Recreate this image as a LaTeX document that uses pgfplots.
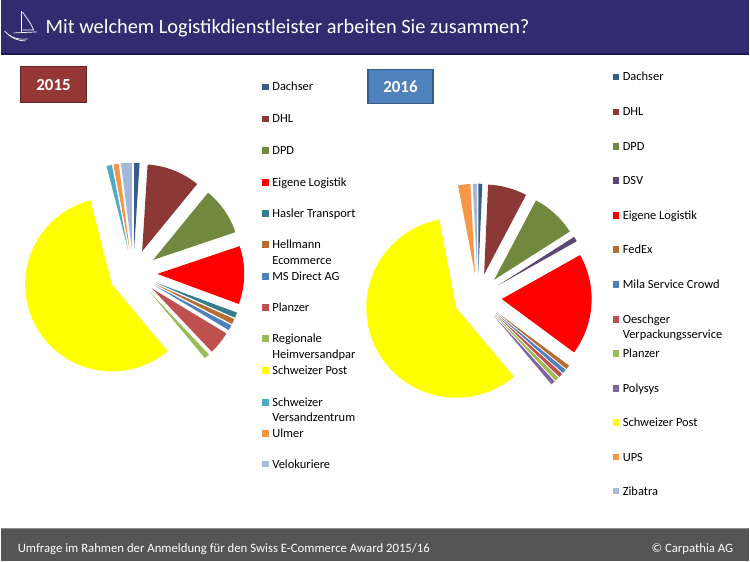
\documentclass[border=0pt]{standalone}
\usepackage{pgfplots}
\usepackage{pgfplotstable}
\pgfplotsset{compat=1.18}
\usepackage{fontspec}
\setmainfont{Carlito}

\definecolor{hdr}{HTML}{312C6F}
\definecolor{hdrline}{HTML}{1A1850}
\definecolor{ftr}{HTML}{555555}
\definecolor{ftrline}{HTML}{8C8C8C}
\definecolor{box15}{HTML}{953735}
\definecolor{box15d}{HTML}{632523}
\definecolor{box16}{HTML}{4F81BD}
\definecolor{box16d}{HTML}{385D8A}
% Excel palette
\definecolor{cA}{HTML}{385D8A}
\definecolor{cB}{HTML}{8C3836}
\definecolor{cC}{HTML}{71893F}
\definecolor{cD}{HTML}{5C4776}
\definecolor{cE}{HTML}{357D91}
\definecolor{cF}{HTML}{B66D31}
\definecolor{cG}{HTML}{4F81BD}
\definecolor{cH}{HTML}{C0504D}
\definecolor{cI}{HTML}{9BBB59}
\definecolor{cJ}{HTML}{8064A2}
\definecolor{cK}{HTML}{4BACC6}
\definecolor{cL}{HTML}{F79646}
\definecolor{cM}{HTML}{A5B8D9}
\definecolor{cRed}{HTML}{FF0000}
\definecolor{cYel}{HTML}{FFFF00}

% 2015, share in percent, clockwise from 12 o'clock
\pgfplotstableread{
val  col
1.0  cA
9.9  cB
8.9  cC
10.8 cRed
1.0  cE
1.0  cF
1.0  cG
4.3  cH
1.0  cI
57.0 cYel
1.0  cK
1.0  cL
2.0  cM
}\pieA

% 2016
\pgfplotstableread{
val  col
0.7  cA
7.0  cB
8.2  cC
0.9  cD
18.2 cRed
0.75 cF
0.75 cG
0.75 cH
0.75 cI
0.75 cJ
57.9 cYel
2.2  cL
0.8  cM
}\pieB

\newcommand\drawpie[5]{% table, cx, cy, radius, explode
  \pgfplotstablegetrowsof{#1}%
  \pgfmathtruncatemacro\pielast{\pgfplotsretval-1}%
  \gdef\pietot{0}%
  \foreach \i in {0,...,\pielast}{%
    \pgfplotstablegetelem{\i}{val}\of{#1}%
    \pgfmathsetmacro\pietmp{\pietot+\pgfplotsretval}%
    \xdef\pietot{\pietmp}}%
  \gdef\piecum{0}%
  \foreach \i in {0,...,\pielast}{%
    \pgfplotstablegetelem{\i}{val}\of{#1}\let\pieval\pgfplotsretval
    \pgfplotstablegetelem{\i}{col}\of{#1}\let\piecol\pgfplotsretval
    \pgfmathsetmacro\aS{90-\piecum/\pietot*360}%
    \pgfmathsetmacro\aE{90-(\piecum+\pieval)/\pietot*360}%
    \pgfmathsetmacro\aM{(\aS+\aE)/2}%
    \fill[fill=\piecol] (axis cs:#2,#3) ++(\aM:#5) -- ++(\aS:#4)
      arc[start angle=\aS, end angle=\aE, radius=#4] -- cycle;
    \pgfmathsetmacro\pietmp{\piecum+\pieval}%
    \xdef\piecum{\pietmp}}%
}

% legend entry: x, y (pixels from top), colour, text
\newcommand\legfont{\fontsize{12.5}{14}\selectfont}
\newcommand\legitem[4]{%
  \fill[#3] (#1,-#2-3.2) rectangle ++(6.5,6.5);
  \node[anchor=base west, inner sep=0pt, font=\legfont]
    at (#1+10,-#2-4) {#4};}
\newcommand\legline[3]{%
  \node[anchor=base west, inner sep=0pt, font=\legfont]
    at (#1+10,-#2-4) {#3};}

\begin{document}
\begin{tikzpicture}[x=1bp, y=1bp]
\fill[white] (0,0) rectangle (750,-562);

% header
\fill[hdr] (0,0) rectangle (750,-54);
\draw[hdrline, line width=1.2] (0,-54) -- (750,-54);
\begin{scope}[white, line width=0.7]
\draw (21,-11) -- (21,-33);
\draw (22,-12) .. controls (26,-18) and (31,-24) .. (33,-30) -- (22,-30);
\draw (13,-33) -- (36,-32);
\draw (4,-31) .. controls (10,-38) and (18,-40) .. (27,-39);
\draw (8,-35) .. controls (13,-39) and (19,-41) .. (25,-41);
\end{scope}
\node[anchor=base west, inner sep=0pt, text=white, font=\fontsize{20.5}{22}\selectfont]
  at (45,-34) {Mit welchem Logistikdienstleister arbeiten Sie zusammen?};

% footer
\fill[ftr] (0,-529) rectangle (750,-562);
\draw[ftrline, line width=1] (0,-529.5) -- (750,-529.5);
\node[anchor=base west, inner sep=0pt, text=white, font=\fontsize{12.8}{14}\selectfont]
  at (17,-553) {Umfrage im Rahmen der Anmeldung für den Swiss E-Commerce Award 2015/16};
\node[anchor=base east, inner sep=0pt, text=white, font=\fontsize{12.8}{14}\selectfont]
  at (734,-553) {© Carpathia AG};

% year boxes
\draw[fill=box15, draw=box15d, line width=1.2] (20,-67) rectangle (86,-103);
\node[text=white, font=\fontsize{17}{19}\selectfont\bfseries] at (53,-85) {2015};
\draw[fill=box16, draw=box16d, line width=1.2] (368,-70) rectangle (433,-104);
\node[text=white, font=\fontsize{17}{19}\selectfont\bfseries] at (400.5,-87) {2016};

% pies
\begin{axis}[at={(0,-562)}, anchor=south west, x=1bp, y=1bp,
  xmin=0, xmax=750, ymin=-562, ymax=0, hide axis, clip=false]
\pgfplotsextra{\drawpie{\pieA}{133}{-274}{87bp}{24bp}}
\pgfplotsextra{\drawpie{\pieB}{478}{-298}{90bp}{24bp}}
\end{axis}

% legend 2015
\legitem{262}{87}{cA}{Dachser}
\legitem{262}{119}{cB}{DHL}
\legitem{262}{151}{cC}{DPD}
\legitem{262}{183}{cRed}{Eigene Logistik}
\legitem{262}{214}{cE}{Hasler Transport}
\legitem{262}{245}{cF}{Hellmann}
\legline{262}{261}{Ecommerce}
\legitem{262}{277}{cG}{MS Direct AG}
\legitem{262}{308}{cH}{Planzer}
\legitem{262}{339}{cI}{Regionale}
\legline{262}{355}{Heimversandpar}
\legitem{262}{371}{cYel}{Schweizer Post}
\legitem{262}{403}{cK}{Schweizer}
\legline{262}{418}{Versandzentrum}
\legitem{262}{434}{cL}{Ulmer}
\legitem{262}{465}{cM}{Velokuriere}

% legend 2016
\legitem{613}{77}{cA}{Dachser}
\legitem{613}{112}{cB}{DHL}
\legitem{613}{147}{cC}{DPD}
\legitem{613}{181}{cD}{DSV}
\legitem{613}{216}{cRed}{Eigene Logistik}
\legitem{613}{250}{cF}{FedEx}
\legitem{613}{285}{cG}{Mila Service Crowd}
\legitem{613}{320}{cH}{Oeschger}
\legline{613}{335}{Verpackungsservice}
\legitem{613}{354}{cI}{Planzer}
\legitem{613}{389}{cJ}{Polysys}
\legitem{613}{423}{cYel}{Schweizer Post}
\legitem{613}{458}{cL}{UPS}
\legitem{613}{492}{cM}{Zibatra}
\end{tikzpicture}
\end{document}
